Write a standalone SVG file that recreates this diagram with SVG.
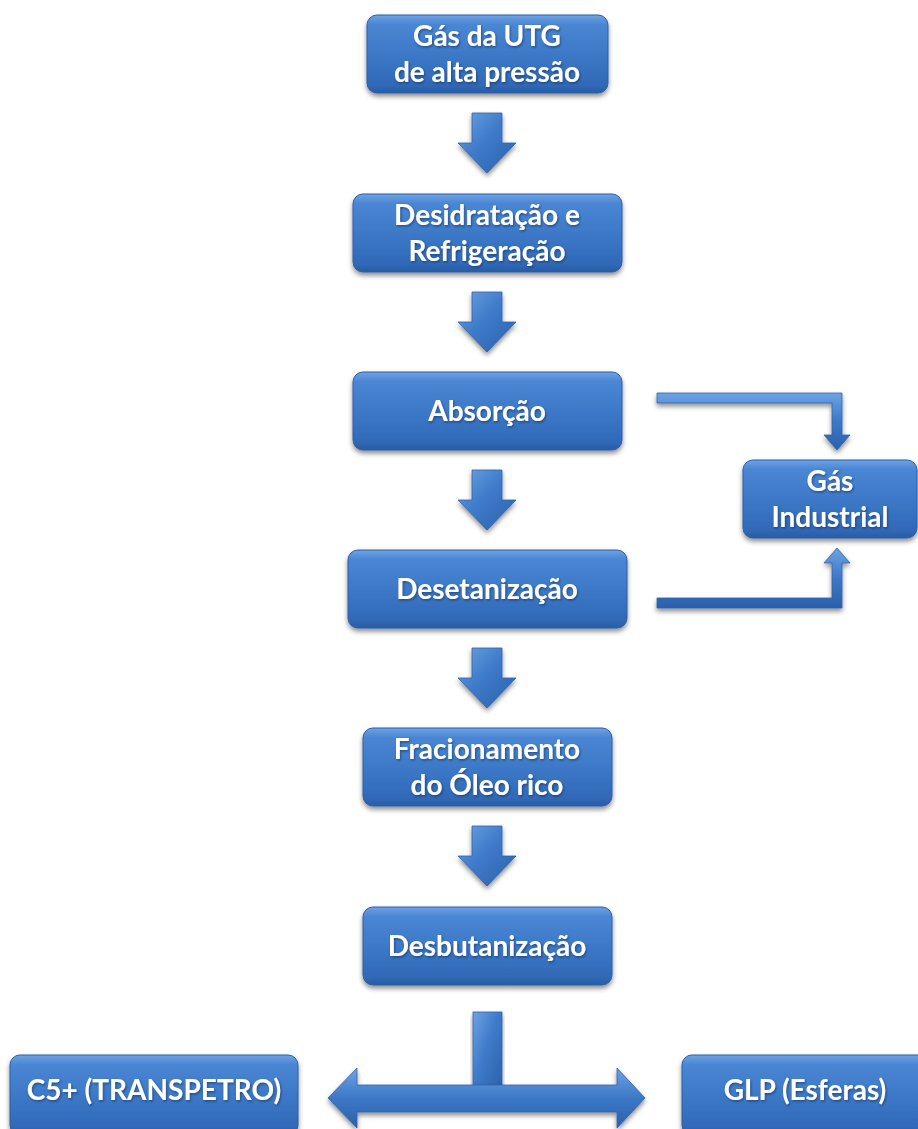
<svg xmlns="http://www.w3.org/2000/svg" width="918" height="1129" viewBox="0 0 918 1129">
  <defs>
    <linearGradient id="boxFill" x1="0" y1="0" x2="0" y2="1">
      <stop offset="0" stop-color="#6fa3e4"/>
      <stop offset="0.12" stop-color="#4a86d3"/>
      <stop offset="0.55" stop-color="#3b77c6"/>
      <stop offset="0.9" stop-color="#3069b7"/>
      <stop offset="1" stop-color="#275ca4"/>
    </linearGradient>
    <linearGradient id="arrowFill" x1="0" y1="0" x2="1" y2="1">
      <stop offset="0" stop-color="#6ea3e3"/>
      <stop offset="0.45" stop-color="#3f7bca"/>
      <stop offset="1" stop-color="#2a60aa"/>
    </linearGradient>
    <linearGradient id="barFill" x1="0" y1="0" x2="0" y2="1">
      <stop offset="0" stop-color="#6ea3e3"/>
      <stop offset="0.5" stop-color="#3c78c7"/>
      <stop offset="1" stop-color="#2a60aa"/>
    </linearGradient>
    <filter id="shadow" x="-10%" y="-20%" width="120%" height="150%">
      <feDropShadow dx="0" dy="3" stdDeviation="2.5" flood-color="#000" flood-opacity="0.45"/>
    </filter>
    <filter id="textShadow" x="-5%" y="-20%" width="110%" height="150%">
      <feDropShadow dx="1" dy="1.5" stdDeviation="1" flood-color="#0b2a55" flood-opacity="0.6"/>
    </filter>
  </defs>
  <style>
    .box { fill: url(#boxFill); stroke: #2a5fa8; stroke-width: 1; filter: url(#shadow); }
    .arrow { fill: url(#arrowFill); stroke: #2d63ad; stroke-width: 0.8; filter: url(#shadow); }
    .bar { fill: url(#barFill); stroke: #2d63ad; stroke-width: 0.8; filter: url(#shadow); }
    .label { font-family: Lato, "Open Sans", "Liberation Sans", sans-serif; font-weight: bold; font-size: 28px; fill: #ffffff; text-anchor: middle; filter: url(#textShadow); }
  </style>

  <!-- connectors -->
  <g id="connectors">
    <polygon class="arrow" points="472,113 502,113 502,143 516,143 487,173 458,143 472,143"/>
    <polygon class="arrow" points="472,292 502,292 502,322 516,322 487,352 458,322 472,322"/>
    <polygon class="arrow" points="472,470 502,470 502,500 516,500 487,530 458,500 472,500"/>
    <polygon class="arrow" points="472,648 502,648 502,678 516,678 487,708 458,678 472,678"/>
    <polygon class="arrow" points="472,826 502,826 502,856 516,856 487,886 458,856 472,856"/>
    <!-- side outlets to Gás Industrial -->
    <polygon class="bar" points="657,393 842,393 842,435 850,435 837,450 824,435 832,435 832,403 657,403"/>
    <polygon class="bar" points="657,598 832,598 832,563 824,563 837,548 850,563 842,563 842,608 657,608"/>
    <!-- split to final products -->
    <rect class="arrow" x="473" y="1012" width="29" height="80"/>
    <polygon class="bar" points="328,1098 357,1068 357,1085 617,1085 617,1068 645,1098 617,1128 617,1112 357,1112 357,1128"/>
  </g>

  <g id="gas-utg">
    <rect class="box" x="367" y="15" width="241" height="78" rx="10"/>
    <text class="label" x="487" y="46">Gás da UTG</text>
    <text class="label" x="487" y="82">de alta pressão</text>
  </g>

  <g id="desidratacao">
    <rect class="box" x="353" y="194" width="269" height="78" rx="10"/>
    <text class="label" x="487" y="225">Desidratação e</text>
    <text class="label" x="487" y="261">Refrigeração</text>
  </g>

  <g id="absorcao">
    <rect class="box" x="353" y="372" width="269" height="78" rx="10"/>
    <text class="label" x="487" y="421">Absorção</text>
  </g>

  <g id="desetanizacao">
    <rect class="box" x="348" y="550" width="279" height="78" rx="10"/>
    <text class="label" x="487" y="599">Desetanização</text>
  </g>

  <g id="gas-industrial">
    <rect class="box" x="743" y="460" width="174" height="78" rx="10"/>
    <text class="label" x="830" y="491">Gás</text>
    <text class="label" x="830" y="527">Industrial</text>
  </g>

  <g id="fracionamento">
    <rect class="box" x="363" y="728" width="249" height="78" rx="10"/>
    <text class="label" x="487" y="759">Fracionamento</text>
    <text class="label" x="487" y="795">do Óleo rico</text>
  </g>

  <g id="desbutanizacao">
    <rect class="box" x="363" y="907" width="249" height="78" rx="10"/>
    <text class="label" x="487" y="956">Desbutanização</text>
  </g>

  <g id="c5-transpetro">
    <rect class="box" x="10" y="1055" width="288" height="80" rx="10"/>
    <text class="label" x="154" y="1100">C5+ (TRANSPETRO)</text>
  </g>

  <g id="glp-esferas">
    <rect class="box" x="682" y="1055" width="246" height="80" rx="10"/>
    <text class="label" x="805" y="1100">GLP (Esferas)</text>
  </g>
</svg>
